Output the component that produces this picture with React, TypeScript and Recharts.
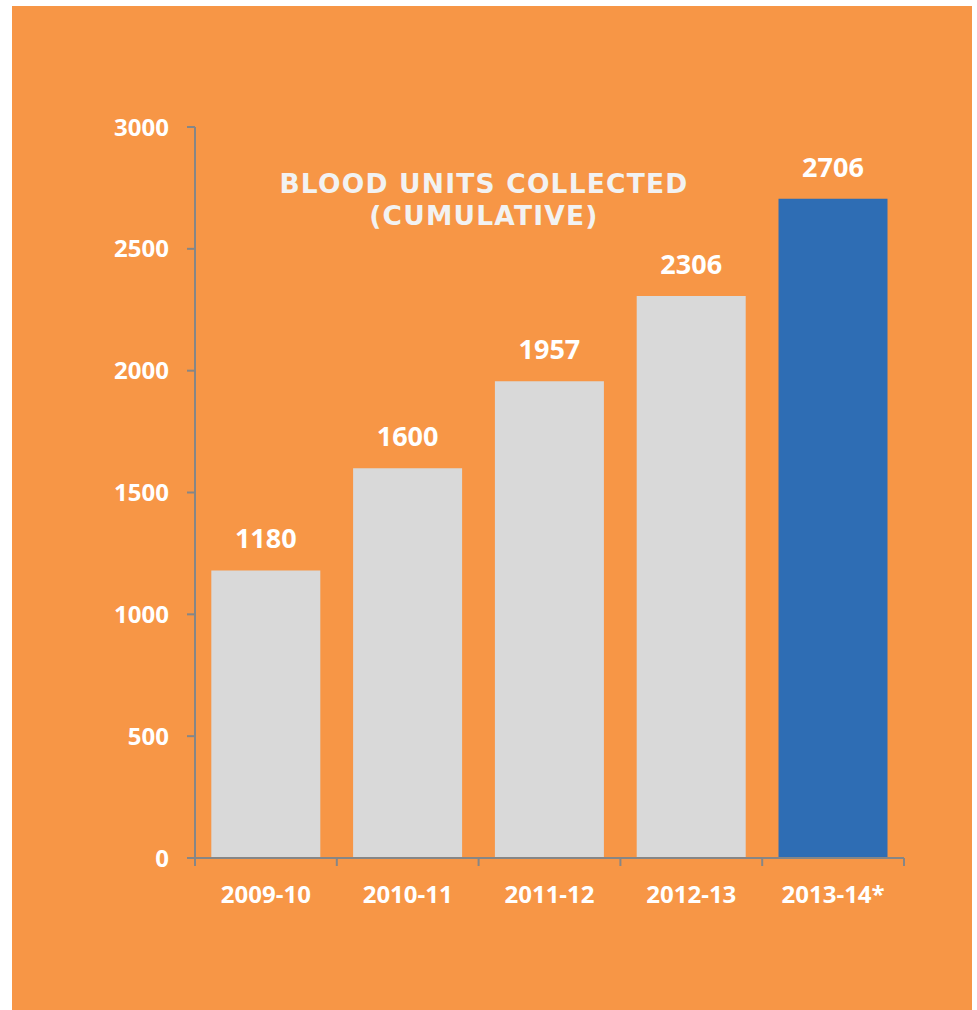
import React from 'react';
import { BarChart, Bar, XAxis, YAxis, Cell, LabelList } from 'recharts';

const YEARS = ['2009-10', '2010-11', '2011-12', '2012-13', '2013-14*'];
const UNITS = [1180, 1600, 1957, 2306, 2706];
const Y_TICKS = [0, 500, 1000, 1500, 2000, 2500, 3000];

const ORANGE = '#F79646';
const GREY_BAR = '#D9D9D9';
const BLUE_BAR = '#2E6DB4';
const AXIS = '#868686';
const LABEL_FONT = '"Open Sans", sans-serif';

const data = YEARS.map((year, i) => ({ year, units: UNITS[i], idx: i + 0.5 }));
const boundaries = YEARS.map((_, i) => i).concat(YEARS.length);

const NoLabel = () => <g />;

const App: React.FC = () => {
  return (
    <div style={{ position: 'absolute', left: 12, top: 6, width: 960, height: 1004, background: ORANGE }}>
      <div
        style={{
          position: 'absolute',
          left: 0,
          width: 944,
          top: 162,
          textAlign: 'center',
          fontFamily: '"DejaVu Sans", sans-serif',
          fontWeight: 700,
          fontSize: 26.5,
          letterSpacing: 1.2,
          lineHeight: '32px',
          color: '#F2F2F2',
        }}
      >
        BLOOD UNITS COLLECTED
        <br />
        (CUMULATIVE)
      </div>
      <BarChart
        width={960}
        height={1004}
        data={data}
        margin={{ top: 121, right: 68, bottom: 91, left: 0 }}
        barCategoryGap="11.5%"
      >
        {/* boundary ticks under the categories */}
        <XAxis
          type="number"
          dataKey="idx"
          domain={[0, YEARS.length]}
          ticks={boundaries}
          tick={<NoLabel />}
          tickSize={8}
          height={1}
          axisLine={{ stroke: AXIS, strokeWidth: 2 }}
          tickLine={{ stroke: AXIS, strokeWidth: 2 }}
        />
        <XAxis
          xAxisId="cat"
          dataKey="year"
          height={60}
          axisLine={false}
          tickLine={false}
          interval={0}
          tickMargin={21}
          tick={{ fill: '#FFFFFF', fontFamily: LABEL_FONT, fontWeight: 700, fontSize: 24 }}
        />
        <YAxis
          domain={[0, 3000]}
          ticks={Y_TICKS}
          width={183}
          tickSize={8}
          tickMargin={18}
          axisLine={{ stroke: AXIS, strokeWidth: 2 }}
          tickLine={{ stroke: AXIS, strokeWidth: 2 }}
          tick={{ fill: '#FFFFFF', fontFamily: LABEL_FONT, fontWeight: 700, fontSize: 24 }}
        />
        <Bar dataKey="units" xAxisId="cat" isAnimationActive={false}>
          {data.map((d, i) => (
            <Cell key={d.year} fill={i === data.length - 1 ? BLUE_BAR : GREY_BAR} />
          ))}
          <LabelList
            dataKey="units"
            position="top"
            offset={22}
            fill="#FFFFFF"
            style={{ fontFamily: LABEL_FONT, fontWeight: 700, fontSize: 27 }}
          />
        </Bar>
      </BarChart>
    </div>
  );
};

export default App;
